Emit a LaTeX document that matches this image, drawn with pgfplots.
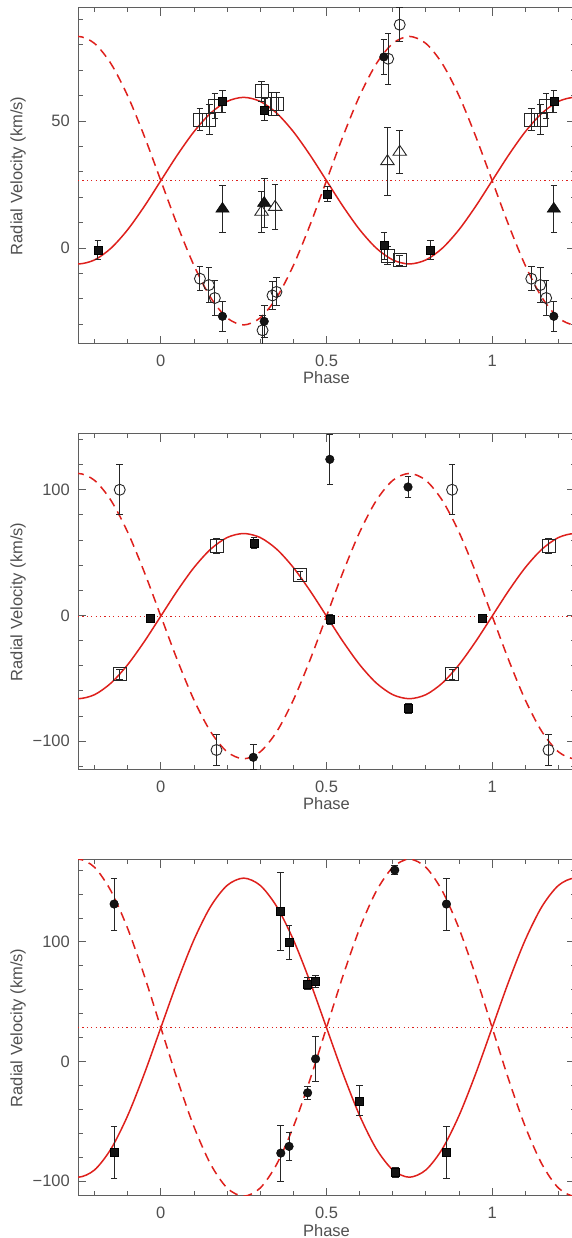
\documentclass[border=0pt]{standalone}
\usepackage{fontspec}
\setmainfont{Liberation Sans}
\usepackage{pgfplots}
\usepackage{pgfplotstable}
\pgfplotsset{compat=1.18}
\definecolor{fitred}{RGB}{222,32,28}
\definecolor{txtgray}{RGB}{80,80,80}
\definecolor{axgray}{RGB}{95,95,95}

% model curves (phase, primary solid, secondary dashed)
\pgfplotstableread{
x s d
-0.3 -4.70 80.52
-0.25 -6.3 83.3
-0.2 -4.70 80.52
-0.15 -0.04 72.45
-0.1 7.22 59.89
-0.05 16.36 44.05
0 26.5 26.5
0.05 36.64 8.95
0.1 45.78 -6.89
0.15 53.04 -19.45
0.2 57.70 -27.52
0.25 59.3 -30.3
0.3 57.70 -27.52
0.35 53.04 -19.45
0.4 45.78 -6.89
0.45 36.64 8.95
0.5 26.5 26.5
0.55 16.36 44.05
0.6 7.22 59.89
0.65 -0.04 72.45
0.7 -4.70 80.52
0.75 -6.3 83.3
0.8 -4.70 80.52
0.85 -0.04 72.45
0.9 7.22 59.89
0.95 16.36 44.05
1 26.5 26.5
1.05 36.64 8.95
1.1 45.78 -6.89
1.15 53.04 -19.45
1.2 57.70 -27.52
1.25 59.3 -30.3
1.3 57.70 -27.52
}\curveA
\pgfplotstableread{
x s d
-0.3 -62.99 107.45
-0.25 -66.2 113.0
-0.2 -62.99 107.45
-0.15 -53.65 91.32
-0.1 -39.12 66.22
-0.05 -20.80 34.57
0 -0.5 -0.5
0.05 19.80 -35.57
0.1 38.12 -67.22
0.15 52.65 -92.32
0.2 61.99 -108.45
0.25 65.2 -114.0
0.3 61.99 -108.45
0.35 52.65 -92.32
0.4 38.12 -67.22
0.45 19.80 -35.57
0.5 -0.5 -0.5
0.55 -20.80 34.57
0.6 -39.12 66.22
0.65 -53.65 91.32
0.7 -62.99 107.45
0.75 -66.2 113.0
0.8 -62.99 107.45
0.85 -53.65 91.32
0.9 -39.12 66.22
0.95 -20.80 34.57
1 -0.5 -0.5
1.05 19.80 -35.57
1.1 38.12 -67.22
1.15 52.65 -92.32
1.2 61.99 -108.45
1.25 65.2 -114.0
1.3 61.99 -108.45
}\curveB
\pgfplotstableread{
x s d
-0.3 -90.68 162.41
-0.25 -96.8 169.3
-0.2 -90.68 162.41
-0.15 -72.91 142.37
-0.1 -45.23 111.18
-0.05 -10.36 71.87
0 28.3 28.3
0.05 66.96 -15.27
0.1 101.83 -54.58
0.15 129.51 -85.77
0.2 147.28 -105.81
0.25 153.4 -112.7
0.3 147.28 -105.81
0.35 129.51 -85.77
0.4 101.83 -54.58
0.45 66.96 -15.27
0.5 28.3 28.3
0.55 -10.36 71.87
0.6 -45.23 111.18
0.65 -72.91 142.37
0.7 -90.68 162.41
0.75 -96.8 169.3
0.8 -90.68 162.41
0.85 -72.91 142.37
0.9 -45.23 111.18
0.95 -10.36 71.87
1 28.3 28.3
1.05 66.96 -15.27
1.1 101.83 -54.58
1.15 129.51 -85.77
1.2 147.28 -105.81
1.25 153.4 -112.7
1.3 147.28 -105.81
}\curveC

% ---- panel 1 data
\pgfplotstableread{
x y e
-0.19 -0.7 3.7
0.186 57.7 4.4
0.312 54.4 4.3
0.503 21.3 3.0
0.674 0.9 5.4
0.814 -0.8 3.7
1.186 57.7 4.4
}\Afsq
\pgfplotstableread{
x y e
0.118 50.5 4.3
0.146 50.5 6
0.163 56 5
0.304 61.7 4
0.334 56.8 4.5
0.349 56.8 4.5
0.684 -3 3.5
0.721 -4.9 2
1.118 50.5 4.3
1.146 50.5 6
1.163 56 5
}\Aosq
\pgfplotstableread{
x y e
0.186 -26.9 6
0.312 -28.9 6.2
0.673 75.2 7
1.186 -26.9 6
}\Afci
\pgfplotstableread{
x y e
0.118 -12.1 4.8
0.145 -14.6 7
0.163 -19.7 7
0.307 -32.4 6
0.337 -18.7 5.5
0.349 -17.3 5.5
0.686 74.5 10
0.721 87.9 6.7
1.118 -12.1 4.8
1.145 -14.6 7
1.163 -19.7 7
}\Aoci
\pgfplotstableread{
x y e
0.186 15.4 9.1
0.312 17.7 9.5
1.186 15.4 9.1
}\Aftr
\pgfplotstableread{
x y e
0.304 14.2 8
0.345 16.1 9
0.684 34.1 13.4
0.721 37.8 8.4
}\Aotr

% ---- panel 2 data
\pgfplotstableread{
x y e
-0.031 -1.9 3
0.281 57.7 4
0.510 -2.9 4
0.747 -73.9 4
0.970 -1.9 3
}\Bfsq
\pgfplotstableread{
x y e
-0.124 -46.9 4
0.168 55.3 6
0.420 32 3
0.879 -46.9 4
1.170 55.3 6
}\Bosq
\pgfplotstableread{
x y e
0.279 -112.8 10
0.510 124.2 20
0.746 102.2 8
}\Bfci
\pgfplotstableread{
x y e
-0.124 100 20
0.168 -107 12
0.879 100 20
1.170 -107 12
}\Boci

% ---- panel 3 data
\pgfplotstableread{
x y e
-0.141 131.7 21.7
0.362 -76.6 23.5
0.387 -71 11.5
0.443 -26.2 5.7
0.467 2.2 18.7
0.706 160.1 4
0.862 131.7 21.7
}\Cfci
\pgfplotstableread{
x y e
-0.141 -76.3 21.7
0.361 125.6 32.6
0.387 99.7 14
0.443 64.9 5
0.467 67.1 5
0.599 -32.9 12.5
0.708 -93 4
0.862 -76.3 21.7
}\Cfsq

\pgfplotsset{
 rvaxis/.style={
  scale only axis, width=497pt, height=336.3pt,
  anchor=south west,
  xmin=-0.25, xmax=1.25,
  xtick={0,0.5,1},
  minor xtick={-0.2,-0.1,0.1,0.2,0.3,0.4,0.6,0.7,0.8,0.9,1.1,1.2},
  tick align=inside, tick pos=both,
  major tick length=8pt, minor tick length=4.5pt,
  axis line style={axgray, line width=1pt},
  every tick/.style={axgray, line width=0.9pt},
  xlabel={Phase}, ylabel={Radial Velocity (km/s)},
  label style={txtgray},
  tick label style={txtgray},
  xlabel style={at={(axis description cs:0.5,0)}, anchor=base, yshift=-40pt},
  ylabel style={at={(axis description cs:-0.1207,0.5)}, anchor=center},
  xticklabel style={anchor=base, yshift=-22.7pt},
  yticklabel style={anchor=east, inner sep=0pt, xshift=-8pt},
  /pgf/number format/assume math mode=true,
  clip=true,
 },
 solidfit/.style={fitred, line width=1.5pt, smooth, no marks},
 dashfit/.style={fitred, line width=1.5pt, smooth, no marks, dash pattern=on 9pt off 6pt},
 dotfit/.style={fitred, line width=1pt, no marks, dash pattern=on 1.2pt off 3.2pt},
 errb/.style={error bars/.cd, y dir=both, y explicit,
   error bar style={line width=0.9pt, black!85},
   error mark options={line width=0.9pt, black!85, mark size=3.3pt, rotate=90}},
 fsq/.style={only marks, mark=square*, mark size=4pt, mark options={draw=black, fill=black!92, line width=0.5pt}},
 osq/.style={only marks, mark=square, mark size=6.5pt, mark options={draw=black!85, line width=0.9pt}},
 fci/.style={only marks, mark=*, mark size=4.3pt, mark options={draw=black, fill=black!92}},
 oci/.style={only marks, mark=o, mark size=5.5pt, mark options={draw=black!85, line width=0.9pt}},
 ftr/.style={only marks, mark=triangle*, mark size=7.8pt, mark options={draw=black, fill=black!92, yscale=0.85}},
 otr/.style={only marks, mark=triangle, mark size=7.8pt, mark options={draw=black!85, line width=0.9pt, yscale=0.85}},
}

\begin{document}
\begin{tikzpicture}[font=\fontsize{16.5}{19}\selectfont]
% ---------------- panel 1
\begin{axis}[rvaxis, at={(78pt,894pt)},
  ymin=-37.8, ymax=94.6,
  ytick={0,50}, yticklabels={0,50},
  minor ytick={-30,-20,-10,10,20,30,40,60,70,80,90}]
\addplot[dotfit] coordinates {(-0.25,26.5) (1.25,26.5)};
\addplot[solidfit] table[x=x,y=s] {\curveA};
\addplot[dashfit] table[x=x,y=d] {\curveA};
\addplot[osq, errb] table[x=x,y=y,y error=e] {\Aosq};
\addplot[oci, errb] table[x=x,y=y,y error=e] {\Aoci};
\addplot[otr, errb] table[x=x,y=y,y error=e] {\Aotr};
\addplot[fsq, errb] table[x=x,y=y,y error=e] {\Afsq};
\addplot[fci, errb] table[x=x,y=y,y error=e] {\Afci};
\addplot[ftr, errb] table[x=x,y=y,y error=e] {\Aftr};
\end{axis}
% ---------------- panel 2
\begin{axis}[rvaxis, at={(78pt,468pt)},
  ymin=-122.9, ymax=144.6,
  ytick={-100,0,100}, yticklabels={−100,0,100},
  minor ytick={-120,-80,-60,-40,-20,20,40,60,80,120,140}]
\addplot[dotfit] coordinates {(-0.25,-0.5) (1.25,-0.5)};
\addplot[solidfit] table[x=x,y=s] {\curveB};
\addplot[dashfit] table[x=x,y=d] {\curveB};
\addplot[osq, errb] table[x=x,y=y,y error=e] {\Bosq};
\addplot[oci, errb] table[x=x,y=y,y error=e] {\Boci};
\addplot[fsq, errb] table[x=x,y=y,y error=e] {\Bfsq};
\addplot[fci, errb] table[x=x,y=y,y error=e] {\Bfci};
\end{axis}
% ---------------- panel 3
\begin{axis}[rvaxis, at={(78pt,42pt)},
  ymin=-112.5, ymax=168.8,
  ytick={-100,0,100}, yticklabels={−100,0,100},
  minor ytick={-80,-60,-40,-20,20,40,60,80,120,140,160}]
\addplot[dotfit] coordinates {(-0.25,28.3) (1.25,28.3)};
\addplot[solidfit] table[x=x,y=s] {\curveC};
\addplot[dashfit] table[x=x,y=d] {\curveC};
\addplot[fsq, errb] table[x=x,y=y,y error=e] {\Cfsq};
\addplot[fci, errb] table[x=x,y=y,y error=e] {\Cfci};
\end{axis}
\pgfresetboundingbox
\useasboundingbox (0,0) rectangle (571pt,1238pt);
\end{tikzpicture}
\end{document}
